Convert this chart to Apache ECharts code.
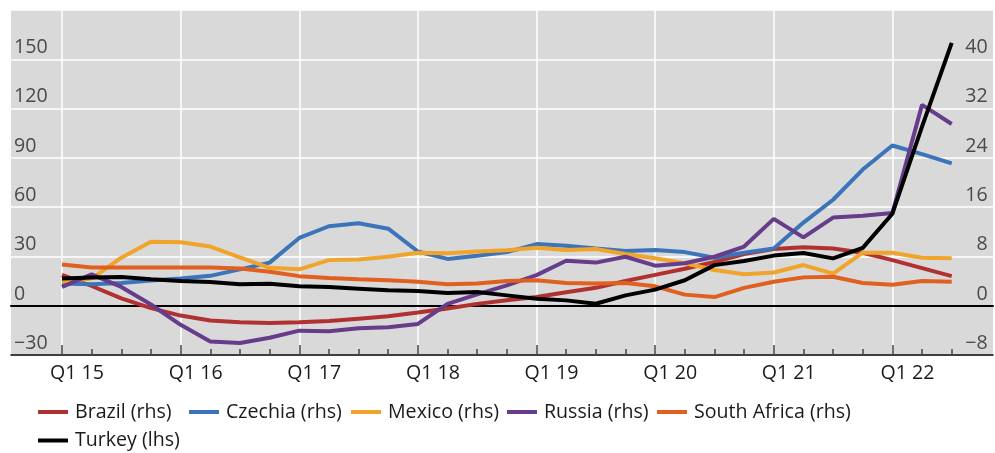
<!DOCTYPE html>
<html>
<head>
<meta charset="utf-8">
<script src="https://cdn.jsdelivr.net/npm/echarts@6/dist/echarts.min.js"></script>
<style>html,body{margin:0;padding:0;background:#fff;}#c{width:995px;height:453px;}</style>
</head>
<body>
<div id="c"></div>
<script>
var categories = ['Q1 15','Q2 15','Q3 15','Q4 15','Q1 16','Q2 16','Q3 16','Q4 16','Q1 17','Q2 17','Q3 17','Q4 17','Q1 18','Q2 18','Q3 18','Q4 18','Q1 19','Q2 19','Q3 19','Q4 19','Q1 20','Q2 20','Q3 20','Q4 20','Q1 21','Q2 21','Q3 21','Q4 21','Q1 22','Q2 22','Q3 22'];
var brazil = [5.0,3.2,1.2,-0.4,-1.6,-2.4,-2.7,-2.8,-2.7,-2.5,-2.1,-1.7,-1.1,-0.45,0.3,0.9,1.4,2.2,2.9,4.0,5.0,6.0,7.1,8.4,9.2,9.5,9.3,8.6,7.4,6.1,4.8];
var czechia = [3.6,3.5,3.7,4.1,4.4,4.85,5.9,7.0,11.0,12.9,13.4,12.5,8.8,7.6,8.1,8.7,10.0,9.75,9.3,8.9,9.05,8.7,7.8,8.6,9.3,13.5,17.2,22.1,26.0,24.6,23.1];
var mexico = [3.9,4.4,7.8,10.4,10.3,9.6,7.85,6.15,5.9,7.4,7.5,7.95,8.6,8.5,8.8,9.0,9.4,9.05,9.2,8.4,7.7,6.9,5.8,5.1,5.4,6.6,5.2,8.6,8.6,7.8,7.7];
var russia = [3.05,5.1,3.05,0.2,-3.1,-5.8,-6.05,-5.2,-4.05,-4.15,-3.65,-3.5,-2.95,0.3,1.85,3.3,4.96,7.3,7.0,7.95,6.5,6.9,7.95,9.6,14.1,11.1,14.3,14.6,15.05,32.6,29.5];
var southAfrica = [6.7,6.2,6.2,6.2,6.2,6.2,6.05,5.5,4.8,4.5,4.3,4.15,3.9,3.5,3.6,4.0,4.15,3.7,3.6,3.7,3.15,1.8,1.4,2.9,3.9,4.6,4.7,3.7,3.4,4.0,3.9];
var turkey = [16.6,17.2,17.5,16.1,15.1,14.5,13.1,13.3,11.8,11.4,10.4,9.4,9.0,7.7,8.3,6.3,4.3,3.25,1.2,6.3,9.8,15.5,24.7,27.2,30.5,32.1,28.8,35.2,56,109,160];

var names = ['Brazil (rhs)','Czechia (rhs)','Mexico (rhs)','Russia (rhs)','South Africa (rhs)','Turkey (lhs)'];
var colors = ['#b03130','#3b74b9','#f0a42a','#663c8b','#e0601f','#000000'];
var seriesData = [brazil, czechia, mexico, russia, southAfrica, turkey];

var FONT = '"Open Sans", "Noto Sans", sans-serif';
var FS = 19.6;
var chart = echarts.init(document.getElementById('c'), null, {renderer:'canvas'});

function minus(v){ return v < 0 ? '\u2212' + Math.abs(v) : String(v); }

var legendLefts = [38, 189, 351, 507, 657, 38];
var legendTops = [402, 402, 402, 402, 402, 430.5];
var legends = names.map(function(n, i){
  return {
    data: [n], left: legendLefts[i], top: legendTops[i], icon: 'rect',
    itemWidth: 30, itemHeight: 4, itemGap: 0, padding: 0,
    textStyle: {fontFamily: FONT, fontSize: FS, color: '#1a1a1a', padding: [0,0,0,2]},
    selectedMode: false
  };
});

var option = {
  animation: false,
  color: colors,
  legend: legends,
  grid: [
    {left: 11, right: 2, top: 10, bottom: 98, show: true, backgroundColor: '#d9d9d9', borderWidth: 0},
    {left: 62, right: 43.3, top: 10, bottom: 98}
  ],
  xAxis: [
    {gridIndex: 0, type: 'value', min: 0, max: 1, position: 'top',
     axisLine: {show: true, lineStyle: {color: '#000', width: 2}}, axisTick: {show: false}, axisLabel: {show: false}, splitLine: {show: false}},
    {gridIndex: 0, type: 'value', min: 0, max: 1, position: 'bottom',
     axisLine: {show: true, onZero: true, lineStyle: {color: '#000', width: 1.5}}, axisTick: {show: false}, axisLabel: {show: false}, splitLine: {show: false}},
    {gridIndex: 1, type: 'category', data: categories, boundaryGap: false, position: 'bottom',
     axisLine: {show: false, onZero: false},
     axisTick: {show: true, interval: 0, inside: true, length: 6, lineStyle: {color: '#444', width: 1.5}},
     axisLabel: {show: false},
     splitLine: {show: true, interval: function(i){ return i % 4 === 0; }, lineStyle: {color: '#ffffff', width: 1.5}}},
    {gridIndex: 1, type: 'category', data: categories, boundaryGap: false, position: 'bottom',
     axisLine: {show: false, onZero: false},
     axisTick: {show: true, interval: 3, inside: true, length: 10, lineStyle: {color: '#444', width: 1.5}},
     axisLabel: {show: true, interval: 3, margin: 8, color: '#1a1a1a', fontFamily: FONT, fontSize: FS, padding: [0,0,0,30]},
     splitLine: {show: false}}
  ],
  yAxis: [
    {gridIndex: 0, type: 'value', min: -30, max: 180, interval: 30,
     axisLine: {show: false}, axisTick: {show: false}, axisLabel: {show: false},
     splitLine: {show: true, lineStyle: {color: '#ffffff', width: 1.5}}},
    {gridIndex: 1, type: 'value', position: 'left', min: -30, max: 180, interval: 30,
     axisLine: {show: false}, axisTick: {show: false}, splitLine: {show: false},
     axisLabel: {show: true, align: 'left', margin: 48, verticalAlign: 'bottom', lineHeight: FS, padding: [0,0,2,0],
       color: '#4a4a4a', fontFamily: FONT, fontSize: FS,
       formatter: function(v){ return v >= 180 ? '' : minus(v); }}},
    {gridIndex: 1, type: 'value', position: 'right', min: -8, max: 48, interval: 8,
     axisLine: {show: false}, axisTick: {show: false}, splitLine: {show: false},
     axisLabel: {show: true, align: 'right', margin: 36, verticalAlign: 'bottom', lineHeight: FS, padding: [0,0,2,0],
       color: '#4a4a4a', fontFamily: FONT, fontSize: FS,
       formatter: function(v){ return v >= 48 ? '' : minus(v); }}}
  ],
  series: names.map(function(n, i){
    return {
      name: n, type: 'line', xAxisIndex: 2, yAxisIndex: i === 5 ? 1 : 2,
      data: seriesData[i], symbol: 'none', showSymbol: false,
      lineStyle: {width: 4, color: colors[i]}, itemStyle: {color: colors[i]},
      z: 3 + i
    };
  })
};
chart.setOption(option);
</script>
</body>
</html>
